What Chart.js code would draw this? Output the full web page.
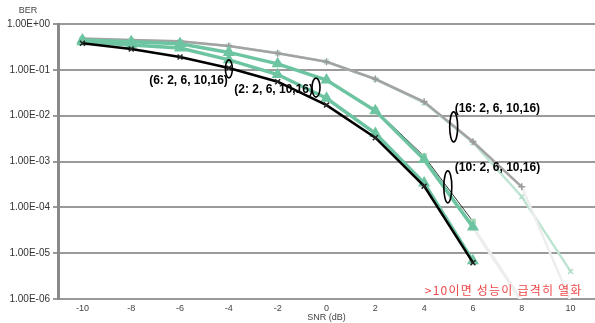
<!DOCTYPE html>
<html>
<head>
<meta charset="utf-8">
<script src="https://cdn.jsdelivr.net/npm/chart.js@4.4.1/dist/chart.umd.min.js"></script>
<style>
  html, body { margin: 0; padding: 0; background: #fff; }
  #wrap { width: 595px; height: 323px; position: relative; }
</style>
</head>
<body>
<div id="wrap"><canvas id="c" width="595" height="323"></canvas></div>
<script>
// SNR sample points (dB)
const snr = [-10, -8, -6, -4, -2, 0, 2, 4, 6, 8, 10];

// BER curves
const ber16    = [0.48, 0.45, 0.42, 0.33, 0.23, 0.15, 0.063, 0.020, 0.0027, 0.00028, 9e-7];
const ber16Alt = [0.47, 0.44, 0.41, 0.33, 0.23, 0.15, 0.062, 0.019, 0.0026, 0.00017, 4e-6];
const ber10    = [0.45, 0.41, 0.37, 0.24, 0.135, 0.060, 0.0128, 0.0011, 3.7e-5, 9e-7, null];
const ber10Alt = [0.45, 0.41, 0.37, 0.24, 0.135, 0.060, 0.0135, 0.0013, 4.9e-5, null, null];
const ber2     = [0.41, 0.35, 0.30, 0.165, 0.079, 0.024, 0.0041, 3.4e-4, 6.8e-6, null, null];
const ber6     = [0.38, 0.285, 0.19, 0.11, 0.055, 0.017, 0.0033, 2.9e-4, 6.2e-6, null, null];

// Axis ticks
const snrTicks = [-10, -8, -6, -4, -2, 0, 2, 4, 6, 8, 10];
const berTicks = [1, 1e-1, 1e-2, 1e-3, 1e-4, 1e-5, 1e-6];
const berTickLabels = ['1.00E+00', '1.00E-01', '1.00E-02', '1.00E-03', '1.00E-04', '1.00E-05', '1.00E-06'];

// Group callouts, anchored in data space
const notes = [
  { text: '(6: 2, 6, 10,16)',  snr: -4.0,  ber: 0.105,  rx: 3.5, ry: 9,   dx: -1, dy: 12,    align: 'right' },
  { text: '(2: 2, 6, 10,16)',  snr: -0.43, ber: 0.041,  rx: 4,   ry: 9.5, dx: -3, dy: 2.5,   align: 'right' },
  { text: '(16: 2, 6, 10,16)', snr: 5.21,  ber: 0.0057, rx: 4,   ry: 15,  dx: 1,  dy: -17.7, align: 'left' },
  { text: '(10: 2, 6, 10,16)', snr: 4.97,  ber: 2.8e-4, rx: 4,   ry: 16,  dx: 7,  dy: -18.7, align: 'left' }
];
const warning = { text: '>10이면 성능이 급격히 열화', snr: 4.03, ber: 1.5e-6 };

const pts = vals => snr.map((x, i) => ({ x, y: vals[i] }));
const faint = '#eeeeee';
const fadeBelow = { borderColor: c => (c.p1.parsed.y < 1e-6 ? faint : undefined) };
const markerSize = r => c => (c.raw && c.raw.y < 1e-6 ? 0 : r);

const GREEN = '#6cc4a1';
const GRAY = '#a3a3a3';

const notePlugin = {
  id: 'notes',
  afterDatasetsDraw(chart) {
    const { ctx, scales: { x, y } } = chart;
    ctx.save();
    ctx.font = 'bold 12px "Liberation Sans", Arial, sans-serif';
    ctx.fillStyle = '#000';
    ctx.strokeStyle = '#000';
    ctx.lineWidth = 1.6;
    ctx.textBaseline = 'middle';
    for (const n of notes) {
      const cx = x.getPixelForValue(n.snr);
      const cy = y.getPixelForValue(n.ber);
      ctx.beginPath();
      ctx.ellipse(cx, cy, n.rx, n.ry, 0, 0, Math.PI * 2);
      ctx.stroke();
      ctx.textAlign = n.align;
      ctx.fillText(n.text, cx + n.dx, cy + n.dy);
    }
    ctx.font = '12px "Noto Sans CJK KR", sans-serif';
    ctx.fillStyle = '#ee4848';
    ctx.textAlign = 'left';
    ctx.letterSpacing = '1.2px';
    ctx.fillText(warning.text, x.getPixelForValue(warning.snr), y.getPixelForValue(warning.ber));
    ctx.letterSpacing = '0px';
    ctx.font = '9px "Liberation Sans", Arial, sans-serif';
    ctx.fillStyle = '#444';
    ctx.textAlign = 'center';
    ctx.fillText('BER', 28, 11);
    ctx.restore();
  }
};

new Chart(document.getElementById('c'), {
  type: 'line',
  data: {
    datasets: [
      { data: pts(ber6), borderColor: '#000', borderWidth: 2.5,
        pointStyle: 'crossRot', pointRadius: 3.5, pointBorderColor: '#222', pointBorderWidth: 1.5, order: 1 },
      { data: pts(ber2), borderColor: GREEN, borderWidth: 3.5,
        pointStyle: 'triangle', pointRadius: 3.5, pointBackgroundColor: GREEN, pointBorderColor: GREEN, order: 2 },
      { data: pts(ber10), borderColor: GREEN, borderWidth: 3.5, segment: fadeBelow,
        pointStyle: 'triangle', pointRadius: markerSize(3.5), pointBackgroundColor: GREEN, pointBorderColor: GREEN, order: 3 },
      { data: pts(ber10Alt), borderColor: '#333', borderWidth: 1,
        pointStyle: 'rect', pointRadius: 3.5, pointBackgroundColor: '#a9d8b9', pointBorderColor: '#a9d8b9', order: 4 },
      { data: pts(ber16), borderColor: GRAY, borderWidth: 2.5, segment: fadeBelow,
        pointStyle: 'cross', pointRadius: markerSize(3.5), pointBorderColor: '#9a9a9a', pointBorderWidth: 1.5, order: 5 },
      { data: pts(ber16Alt), borderColor: '#bfe4d2', borderWidth: 2.5,
        pointStyle: 'crossRot', pointRadius: 3.5, pointBorderColor: '#b3dfca', pointBorderWidth: 1.5, order: 6 }
    ]
  },
  options: {
    responsive: false,
    animation: false,
    layout: { autoPadding: false, padding: { top: 24, left: 0, right: 0, bottom: 0 } },
    plugins: { legend: { display: false }, tooltip: { enabled: false } },
    scales: {
      x: {
        type: 'linear', min: -11, max: 11,
        afterBuildTicks: s => { s.ticks = snrTicks.map(v => ({ value: v })); },
        afterFit: s => { s.height = 24; },
        ticks: { callback: v => String(v), font: { size: 9, family: '"Liberation Sans", Arial, sans-serif' },
                 color: '#444', padding: 4, maxRotation: 0, autoSkip: false },
        grid: { display: false, drawTicks: false },
        border: { display: true, color: '#999', width: 2 },
        title: { display: true, text: 'SNR (dB)', color: '#444', padding: 0,
                 font: { size: 9, family: '"Liberation Sans", Arial, sans-serif' } }
      },
      y: {
        type: 'logarithmic', min: 1e-6, max: 1,
        afterBuildTicks: s => { s.ticks = berTicks.map(v => ({ value: v })); },
        afterFit: s => { s.width = 58; },
        ticks: { callback: v => berTickLabels[berTicks.indexOf(v)], autoSkip: false,
                 font: { size: 10, family: '"Liberation Sans", Arial, sans-serif' }, color: '#333', padding: 3 },
        grid: { color: '#9a9a9a', lineWidth: 2, tickLength: 5, drawTicks: true },
        border: { color: '#8a8a8a', width: 3 }
      }
    }
  },
  plugins: [notePlugin]
});
</script>
</body>
</html>
